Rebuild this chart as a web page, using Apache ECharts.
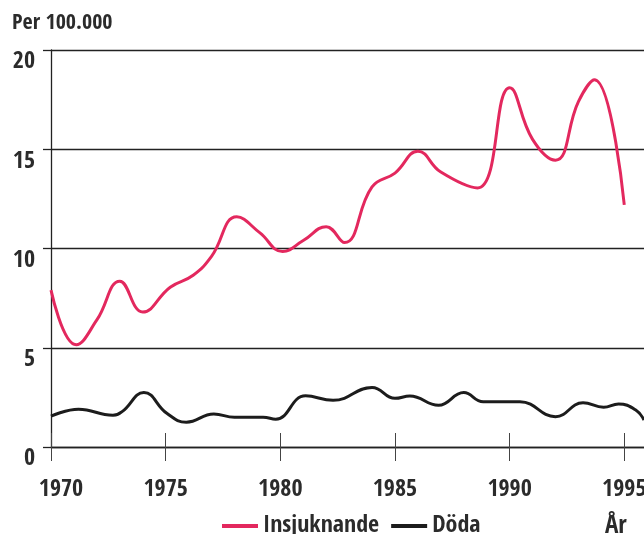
<!DOCTYPE html>
<html>
<head>
<meta charset="utf-8">
<script src="https://cdn.jsdelivr.net/npm/echarts@6/dist/echarts.min.js"></script>
<style>
  html, body { margin: 0; padding: 0; background: #fff; }
  #chart { width: 644px; height: 534px; }
</style>
</head>
<body>
<div id="chart"></div>
<script>
// Insjuknande (rosa linje)
const insjYears  = [1970, 1971.1, 1972, 1973, 1974, 1975.2, 1976.2, 1977, 1978.1, 1979.1, 1980.1, 1981, 1982, 1982.8, 1984, 1985, 1986, 1987, 1988.6, 1990, 1991, 1992, 1993, 1993.7, 1995];
const insjValues = [7.9, 5.15, 6.4, 8.35, 6.8, 8.05, 8.65, 9.6, 11.6, 10.8, 9.85, 10.4, 11.1, 10.3, 13.1, 13.8, 14.9, 13.85, 13.05, 18.1, 15.5, 14.45, 17.4, 18.5, 12.2];
// Döda (svart linje)
const dodaYears  = [1970, 1971.2, 1972.7, 1973.1, 1974.05, 1975.05, 1975.9, 1977.1, 1978, 1979.25, 1979.8, 1981.1, 1982.3, 1984, 1985, 1985.65, 1986.9, 1988, 1988.85, 1990.45, 1992, 1993.2, 1994.1, 1994.75, 1995.5, 1995.86];
const dodaValues = [1.55, 1.9, 1.6, 1.78, 2.75, 1.7, 1.25, 1.66, 1.5, 1.5, 1.4, 2.58, 2.35, 3.0, 2.45, 2.57, 2.1, 2.74, 2.28, 2.28, 1.53, 2.23, 2.0, 2.17, 1.86, 1.36];
// axlar
const tickYears = [1970, 1975, 1980, 1985, 1990, 1995];
const yTicks = [0, 5, 10, 15, 20];

const font = "'Open Sans Condensed', 'Roboto Condensed', sans-serif";
const ink = '#2b2b2b';

function pairs(xs, ys) {
  return xs.map((x, i) => [x, ys[i]]);
}

const chart = echarts.init(document.getElementById('chart'));
const xBase = {
  type: 'value',
  min: 1970,
  max: 1995.86,
  position: 'bottom',
  splitLine: { show: false }
};
chart.setOption({
  animation: false,
  title: {
    text: 'Per 100.000',
    left: 12,
    top: 12,
    padding: 0,
    textStyle: { fontFamily: font, fontSize: 22, fontWeight: 'bold', color: ink }
  },
  legend: {
    left: 222,
    top: 514,
    padding: 0,
    itemWidth: 36,
    itemHeight: 4,
    itemGap: 12,
    icon: 'rect',
    textStyle: { fontFamily: font, fontSize: 24, fontWeight: 'bold', color: ink },
    data: ['Insjuknande', 'Döda']
  },
  graphic: [{
    type: 'text',
    left: 605,
    top: 514,
    style: { text: 'År', font: 'bold 25px ' + font, fill: ink }
  }],
  grid: { left: 51, right: 0, top: 50, bottom: 87, outerBoundsMode: 'none' },
  xAxis: [
    Object.assign({}, xBase, {
      axisLine: { show: true, lineStyle: { color: '#222', width: 1.3 } },
      axisTick: { show: true, length: 14, customValues: tickYears, lineStyle: { color: '#444', width: 1 } },
      axisLabel: {
        customValues: tickYears,
        margin: 31,
        fontFamily: font, fontSize: 24, fontWeight: 'bold', color: ink,
        formatter: v => v === 1970 ? '{first|1970}' : String(v),
        rich: { first: { fontFamily: font, fontSize: 24, fontWeight: 'bold', color: ink, padding: [0, 0, 0, 20] } }
      }
    }),
    Object.assign({}, xBase, {
      axisLine: { show: false },
      axisTick: { show: true, inside: true, length: 14, customValues: tickYears, lineStyle: { color: '#444', width: 1 } },
      axisLabel: { show: false }
    })
  ],
  yAxis: {
    type: 'value',
    min: 0,
    max: 20,
    interval: 5,
    axisLine: { show: true, lineStyle: { color: '#222', width: 1.3 } },
    axisTick: { show: true, length: 8, lineStyle: { color: '#222', width: 1.3 } },
    axisLabel: {
      margin: 16,
      verticalAlign: 'top',
      fontFamily: font, fontSize: 24, fontWeight: 'bold', color: ink,
      customValues: yTicks
    },
    splitLine: { show: true, lineStyle: { color: '#222', width: 1.3 } }
  },
  series: [
    {
      name: 'Insjuknande',
      type: 'line',
      data: pairs(insjYears, insjValues),
      smooth: 0.45,
      showSymbol: false,
      color: '#e3285e',
      lineStyle: { width: 3, color: '#e3285e' }
    },
    {
      name: 'Döda',
      type: 'line',
      data: pairs(dodaYears, dodaValues),
      smooth: 0.45,
      showSymbol: false,
      color: '#1c1c1c',
      lineStyle: { width: 3, color: '#1c1c1c' }
    }
  ]
});
</script>
</body>
</html>
